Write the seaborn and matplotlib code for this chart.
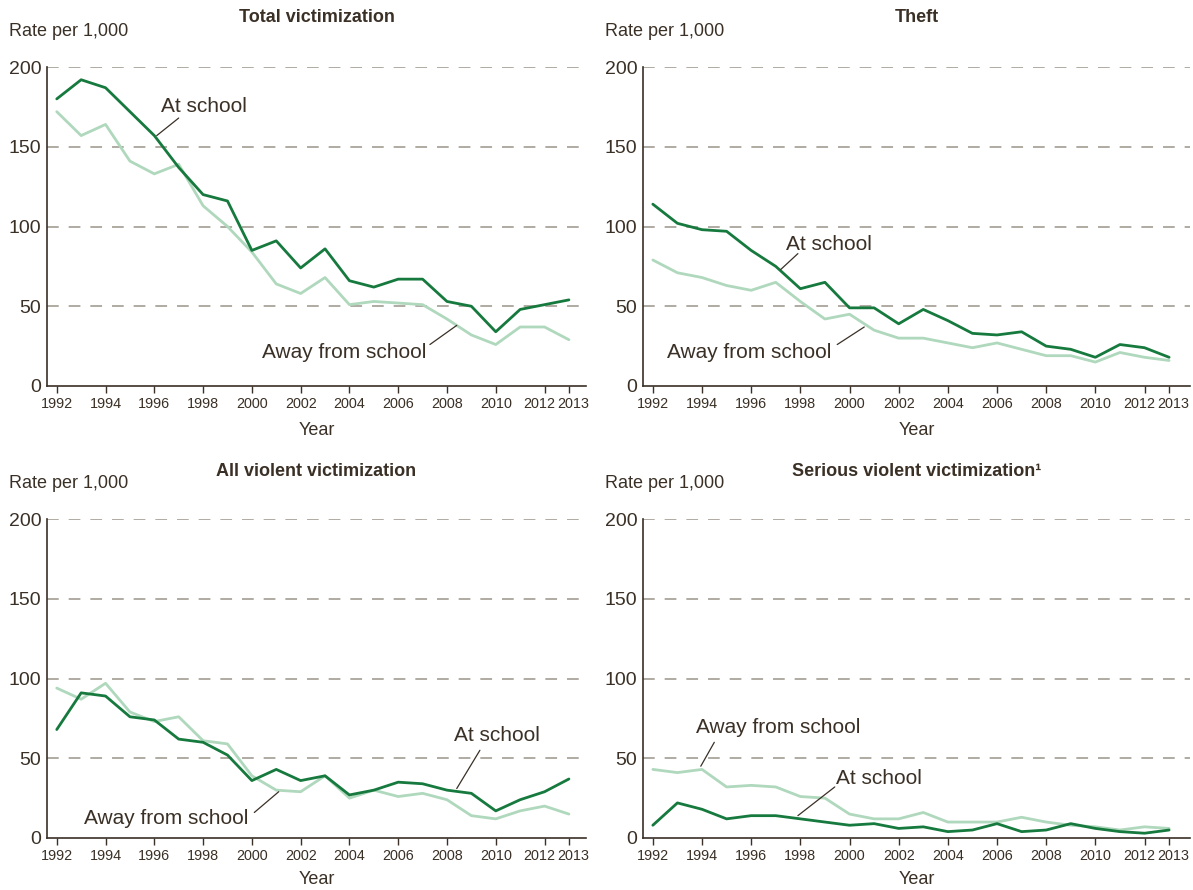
import pandas as pd
import matplotlib.pyplot as plt
import matplotlib.transforms as mtransforms
import seaborn as sns

# ---- data (rate per 1,000 students) ----
YEARS = list(range(1992, 2014))

total_at = [180, 192, 187, 172, 157, 137, 120, 116, 85, 91, 74, 86, 66, 62, 67, 67, 53, 50, 34, 48, 51, 54]
total_away = [172, 157, 164, 141, 133, 139, 113, 100, 84, 64, 58, 68, 51, 53, 52, 51, 42, 32, 26, 37, 37, 29]

theft_at = [114, 102, 98, 97, 85, 75, 61, 65, 49, 49, 39, 48, 41, 33, 32, 34, 25, 23, 18, 26, 24, 18]
theft_away = [79, 71, 68, 63, 60, 65, 53, 42, 45, 35, 30, 30, 27, 24, 27, 23, 19, 19, 15, 21, 18, 16]

violent_at = [68, 91, 89, 76, 74, 62, 60, 52, 36, 43, 36, 39, 27, 30, 35, 34, 30, 28, 17, 24, 29, 37]
violent_away = [94, 87, 97, 79, 73, 76, 61, 59, 39, 30, 29, 39, 25, 30, 26, 28, 24, 14, 12, 17, 20, 15]

serious_at = [8, 22, 18, 12, 14, 14, 12, 10, 8, 9, 6, 7, 4, 5, 9, 4, 5, 9, 6, 4, 3, 5]
serious_away = [43, 41, 43, 32, 33, 32, 26, 25, 15, 12, 12, 16, 10, 10, 10, 13, 10, 8, 7, 5, 7, 6]

TITLES = ["Total victimization", "Theft", "All violent victimization",
          "Serious violent victimization\u00b9"]
XTICKS = [1992, 1994, 1996, 1998, 2000, 2002, 2004, 2006, 2008, 2010, 2012, 2013]
YTICKS = [0, 50, 100, 150, 200]

AT, AWAY = "At school", "Away from school"
DARK = "#16793d"
LIGHT = "#afd8bd"
TEXT = "#3a3026"
GRID = "#aaa59b"

sns.set_style("white")
plt.rcParams["font.family"] = ["Liberation Sans", "DejaVu Sans"]
plt.rcParams["text.color"] = TEXT


def make_frame(at, away):
    return pd.DataFrame({
        "Year": YEARS * 2,
        "Rate": at + away,
        "Location": [AT] * len(YEARS) + [AWAY] * len(YEARS),
    })


panels = [
    (make_frame(total_at, total_away),
     # (text, text xy, leader start, leader end)
     [(AT, (1998.05, 175), (1997.0, 168), (1996.1, 157)),
      (AWAY, (2003.8, 21), (2007.3, 26), (2008.4, 38))]),
    (make_frame(theft_at, theft_away),
     [(AT, (1999.15, 89), (1997.9, 83), (1997.2, 73)),
      (AWAY, (1995.9, 21), (1999.5, 26), (2000.6, 37))]),
    (make_frame(violent_at, violent_away),
     [(AT, (2010.05, 64), (2009.35, 55), (2008.4, 31)),
      (AWAY, (1996.5, 12.5), (2000.1, 16), (2001.1, 29))]),
    (make_frame(serious_at, serious_away),
     [(AWAY, (1997.1, 69), (1994.5, 60), (1993.95, 45)),
      (AT, (2001.2, 37.5), (1999.4, 32), (1997.9, 14))]),
]

# the last two year labels sit too close together; nudge them apart (pixels)
NUDGE = {2012: -5, 2013: 4}
TICK_FS = 10.4

fig = plt.figure(figsize=(11.93, 8.9), dpi=100)
W, H = 1193, 890
# axes boxes in pixels: left, right, top, bottom
boxes = [(47, 586, 67, 386), (643, 1190, 67, 386),
         (47, 586, 519, 838), (643, 1190, 519, 838)]

for i, ((df, notes), (l, r, t, b)) in enumerate(zip(panels, boxes)):
    ax = fig.add_axes([l / W, 1 - b / H, (r - l) / W, (b - t) / H])
    for y in YTICKS[1:]:
        ax.axhline(y, color=GRID, lw=1.3, ls=(0, (6.5, 5.5)), zorder=0)
    sns.lineplot(data=df, x="Year", y="Rate", hue="Location",
                 palette={AT: DARK, AWAY: LIGHT}, hue_order=[AWAY, AT],
                 linewidth=2.0, legend=False, ax=ax)
    ax.set_xlim(1991.6, 2013.7 if i % 2 == 0 else 2013.85)
    ax.set_ylim(0, 200)
    ax.set_xticks(XTICKS)
    ax.set_xticklabels(["" if x in NUDGE else str(x) for x in XTICKS],
                       fontsize=TICK_FS, color=TEXT)
    for yr, dx in NUDGE.items():
        off = mtransforms.ScaledTranslation(dx / 100, -8 / 72, fig.dpi_scale_trans)
        ax.text(yr, 0, str(yr), transform=ax.get_xaxis_transform() + off,
                ha="center", va="top", fontsize=TICK_FS, color=TEXT)
    ax.set_yticks(YTICKS)
    ax.set_yticklabels([str(y) for y in YTICKS], fontsize=14, color=TEXT)
    ax.tick_params(axis="x", direction="out", length=5, width=1, color=TEXT, pad=3, bottom=True)
    ax.tick_params(axis="y", length=0, pad=4)
    for s in ["top", "right"]:
        ax.spines[s].set_visible(False)
    for s in ["left", "bottom"]:
        ax.spines[s].set_color(TEXT)
        ax.spines[s].set_linewidth(1.2)
    ax.set_xlabel("")
    ax.set_ylabel("")

    cx = (l + r) / 2 / W
    title_y = 18 if i < 2 else 471
    fig.text(cx, 1 - title_y / H, TITLES[i], ha="center", va="center",
             fontsize=13, fontweight="bold", color=TEXT)
    rate_y = 31 if i < 2 else 484
    fig.text((l - 38) / W, 1 - rate_y / H, "Rate per 1,000", ha="left", va="center",
             fontsize=13, color=TEXT)
    year_y = 430 if i < 2 else 880
    fig.text(cx, 1 - year_y / H, "Year", ha="center", va="center",
             fontsize=13, color=TEXT)

    for label, txy, p0, p1 in notes:
        ax.text(txy[0], txy[1], label, ha="center", va="center", fontsize=15, color=TEXT)
        ax.annotate("", xy=p1, xytext=p0,
                    arrowprops=dict(arrowstyle="-", color=TEXT, lw=0.9, shrinkA=0, shrinkB=0))

fig.savefig("out.png", dpi=100)
